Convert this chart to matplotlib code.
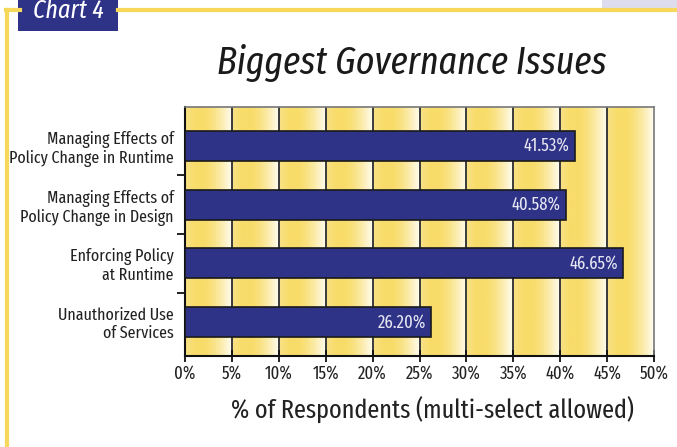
import matplotlib
matplotlib.use("Agg")
import matplotlib.pyplot as plt
import numpy as np
from matplotlib.patches import Rectangle
from matplotlib.colors import to_rgb

categories = ["Managing Effects of\nPolicy Change in Runtime",
              "Managing Effects of\nPolicy Change in Design",
              "Enforcing Policy\nat Runtime",
              "Unauthorized Use\nof Services"]
values = [41.53, 40.58, 46.65, 26.20]
xticks = [0, 5, 10, 15, 20, 25, 30, 35, 40, 45, 50]
xticklabels = ["0%", "5%", "10%", "15%", "20%", "25%", "30%", "35%", "40%", "45%", "50%"]

FONT = ['Fira Sans Extra Condensed', 'DejaVu Sans']
plt.rcParams['font.family'] = FONT

NAVY = "#2E3388"
YEL = "#F8DC6A"

fig = plt.figure(figsize=(6.77, 4.47), dpi=100)
fig.patch.set_facecolor("white")

ax = fig.add_axes([185/677, 1-356/447, (654-185)/677, (356-107)/447])

ylo, yhi = 3.58, -0.664
ax.set_xlim(0, 50)
ax.set_ylim(ylo, yhi)

# gradient background for each 5% column
t = np.linspace(0, 1, 200)
c_start = np.array(to_rgb("#F9E28A"))
c_peak = np.array(to_rgb(YEL))
c_end = np.array(to_rgb("#FFFDF2"))
cols = np.zeros((1, len(t), 3))
for i, tv in enumerate(t):
    if tv < 0.2:
        f = tv / 0.2
        cols[0, i] = c_start * (1 - f) + c_peak * f
    elif tv < 0.4:
        cols[0, i] = c_peak
    else:
        f = ((tv - 0.4) / 0.6) ** 1.5
        cols[0, i] = c_peak * (1 - f) + c_end * f
for x0 in xticks[:-1]:
    ax.imshow(cols, extent=[x0, x0 + 5, ylo, yhi], aspect='auto', zorder=0,
              interpolation='bilinear')
for x0 in xticks[1:-1]:
    ax.axvline(x0, color="#3a3a3a", lw=1.4, zorder=1)

ax.set_xlim(0, 50)
ax.set_ylim(ylo, yhi)

y = np.arange(len(categories))
bars = ax.barh(y, values, height=0.51, color=NAVY, edgecolor="#1a1a1a",
               linewidth=1.2, zorder=3)
for yi, v in zip(y, values):
    ax.text(v - 0.5, yi, f"{v:.2f}%", ha='right', va='center',
            color="#E6E6F2", fontsize=13, zorder=4)

ax.set_yticks(y)
ax.set_yticklabels(categories, fontsize=12.5, color="#222222", linespacing=1.15)
ax.tick_params(axis='y', which='major', length=0, pad=8)
ax.set_yticks([0.5, 1.5, 2.5], minor=True)
ax.tick_params(axis='y', which='minor', length=6, width=1.3, color="#111111",
               direction='out')

ax.set_xticks(xticks)
ax.set_xticklabels(xticklabels, fontsize=13, color="#222222")
ax.tick_params(axis='x', length=8, width=1.3, direction='inout', color="#111111", pad=2)

for s in ['left', 'bottom']:
    ax.spines[s].set_color("#111111")
    ax.spines[s].set_linewidth(1.5)
for s in ['top', 'right']:
    ax.spines[s].set_color("#777777")
    ax.spines[s].set_linewidth(1.2)

ax.set_xlabel("% of Respondents (multi-select allowed)", fontsize=19,
              color="#222222")
ax.xaxis.set_label_coords((432-185)/469, -0.165)

# title
fig.text(412/677, 1-63/447, "Biggest Governance Issues", fontsize=28,
         style='italic', ha='center', va='center', color="#1a1a1a")

# decorative frame
fig.add_artist(Rectangle((602/677, 1-8/447), 75/677, 8/447, transform=fig.transFigure,
                         facecolor="#DDDDEE", edgecolor='none'))
fig.add_artist(plt.Line2D([118/677, 1], [1-10/447, 1-10/447], transform=fig.transFigure,
                          color="#F8D85A", lw=3))
fig.add_artist(plt.Line2D([7/677, 7/677], [0, 1-10/447], transform=fig.transFigure,
                          color="#F8D85A", lw=3))
fig.add_artist(plt.Line2D([6/677, 20/677], [1-10/447, 1-10/447], transform=fig.transFigure,
                          color="#F8D85A", lw=3))
fig.add_artist(Rectangle((18/677, 1-31/447), 100/677, 31/447, transform=fig.transFigure,
                         facecolor=NAVY, edgecolor='none'))
fig.text(68/677, 1-18/447, "Chart 4", fontsize=19, style='italic', color="white",
         ha='center', va='baseline')

fig.savefig("out.png", dpi=100)
